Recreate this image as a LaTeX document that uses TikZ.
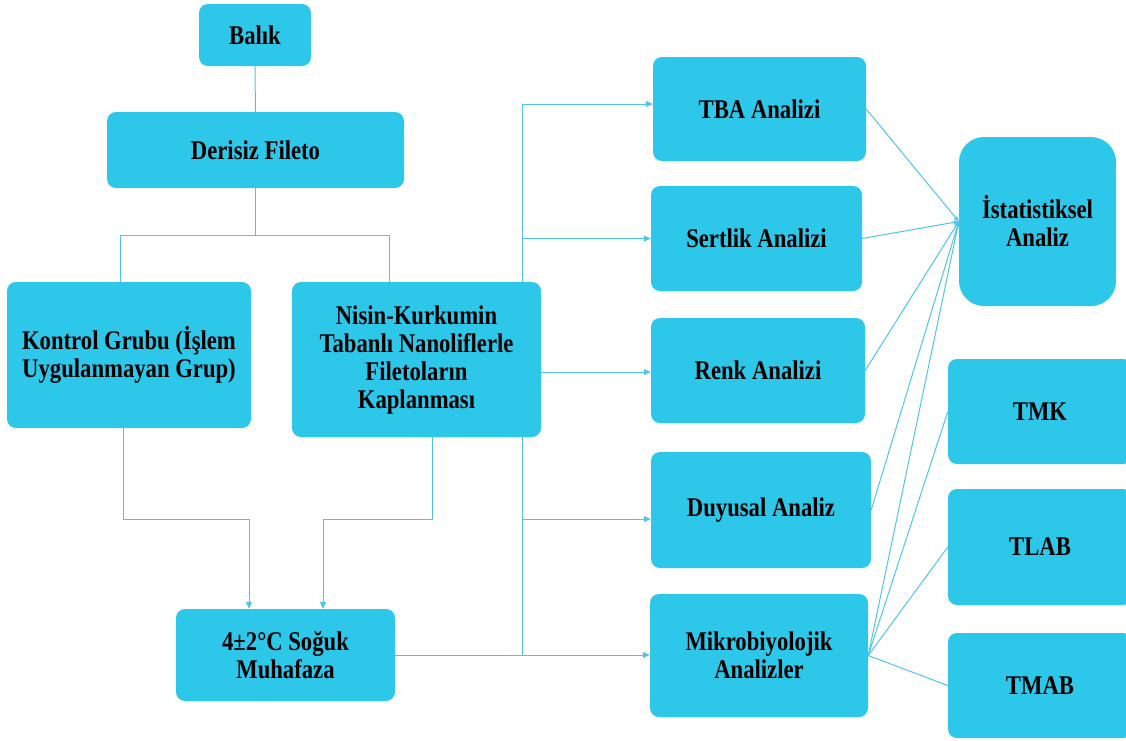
\documentclass[tikz,border=0pt]{standalone}
\usepackage{fontspec}
\setmainfont{Liberation Serif}[FakeStretch=0.84]
\usetikzlibrary{arrows.meta,backgrounds}
\definecolor{boxcyan}{RGB}{45,199,233}
\definecolor{linecyan}{RGB}{80,196,232}

\begin{document}
\begin{tikzpicture}[x=1pt,y=-1pt,
		box/.style={rectangle, rounded corners=9pt, fill=boxcyan, align=center, inner sep=0pt,
			font=\bfseries\fontsize{27}{28}\selectfont},
		link/.style={draw=linecyan, line width=1pt},
		flow/.style={link, -{Triangle[length=7pt,width=6pt]}},
		toist/.style={link, -{Triangle[length=5pt,width=4pt]}}]
	\useasboundingbox (0,0) rectangle (1126,740);

	% left column
	\node[box, minimum width=112pt, minimum height=62pt] (balik) at (255,35) {Balık};
	\node[box, minimum width=297pt, minimum height=76pt] (derisiz) at (255.5,150) {Derisiz Fileto};
	\node[box, minimum width=244pt, minimum height=146pt] (kontrol) at (129,355) {Kontrol Grubu (İşlem\\Uygulanmayan Grup)};
	\node[box, minimum width=249pt, minimum height=155pt] (nisin) at (416.5,359.5) {Nisin-Kurkumin\\Tabanlı Nanoliflerle\\Filetoların\\Kaplanması};
	\node[box, minimum width=219pt, minimum height=92pt] (soguk) at (285.5,655) {4±2°C Soğuk\\Muhafaza};

	% analyses
	\node[box, minimum width=213pt, minimum height=104pt] (tba) at (759.5,109) {TBA Analizi};
	\node[box, minimum width=211pt, minimum height=105pt] (sertlik) at (756.5,238.5) {Sertlik Analizi};
	\node[box, minimum width=214pt, minimum height=105pt] (renk) at (758,370.5) {Renk Analizi};
	\node[box, minimum width=220pt, minimum height=116pt] (duyusal) at (761,510) {Duyusal Analiz};
	\node[box, minimum width=218pt, minimum height=123pt] (mikro) at (759,655.5) {Mikrobiyolojik\\Analizler};

	\node[box, rounded corners=25pt, minimum width=157pt, minimum height=169pt] (istat) at (1037.5,221.5) {İstatistiksel\\Analiz};
	\node[box, minimum width=184pt, minimum height=105pt] (tmk) at (1040,411.5) {TMK};
	\node[box, minimum width=184pt, minimum height=116pt] (tlab) at (1040,547) {TLAB};
	\node[box, minimum width=184pt, minimum height=105pt] (tmab) at (1040,685.5) {TMAB};

	\begin{scope}[on background layer]
		\draw[link] (balik) -- (derisiz);
		\draw[link] (derisiz.south) -- ++(0,47) coordinate (fork);
		\draw[link] (fork) -| ([xshift=-9pt]kontrol.north);
		\draw[link] (fork) -| ([xshift=-27.5pt]nisin.north);
		\draw[flow] ([xshift=-6pt]kontrol.south) -- ++(0,91) -| ([xshift=-36.5pt]soguk.north);
		\draw[flow] ([xshift=15.5pt]nisin.south) -- ++(0,82) -| ([xshift=37.5pt]soguk.north);

		\draw[flow] (soguk.east) -- (soguk.east -| mikro.west);
		\coordinate (trunk) at (522,655);
		\draw[flow] (trunk) |- ([yshift=5pt]tba.west);
		\draw[flow] (trunk) |- (sertlik.west);
		\draw[flow] (trunk) |- ([yshift=-1.5pt]renk.west);
		\draw[flow] (trunk) |- ([yshift=-9pt]duyusal.west);

		\foreach \src in {tba,sertlik,renk,duyusal,mikro}
			\draw[toist] (\src.east) -- (istat.west);
		\foreach \dst in {tmk,tlab,tmab}
			\draw[link] (mikro.east) -- (\dst.west);
	\end{scope}
\end{tikzpicture}
\end{document}
